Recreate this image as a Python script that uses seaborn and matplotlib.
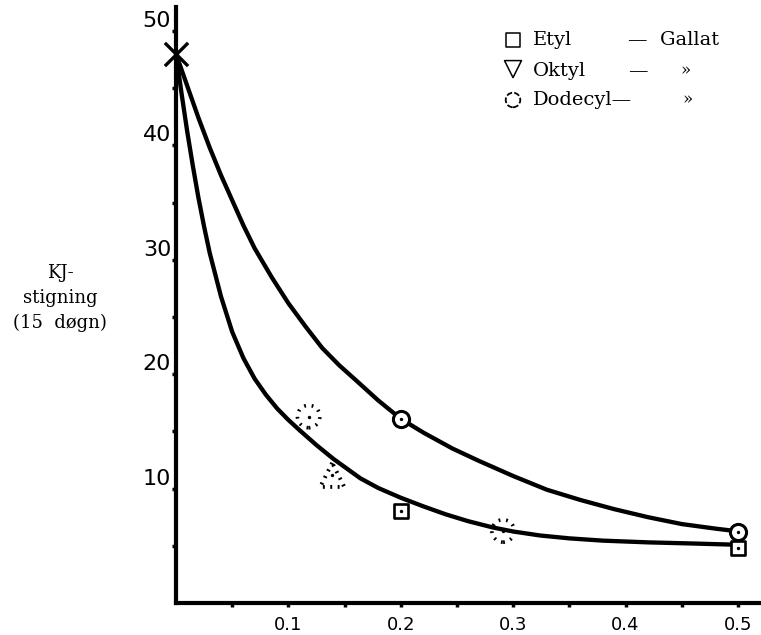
import matplotlib
matplotlib.use('Agg')
import matplotlib.pyplot as plt
import seaborn as sns
from matplotlib.transforms import ScaledTranslation

# curves (x = concentration, y = KJ-stigning)
upper_x = [0.0, 0.01, 0.02, 0.03, 0.04, 0.05, 0.06, 0.07, 0.085, 0.10, 0.115, 0.13, 0.145, 0.162,
           0.18, 0.20, 0.22, 0.246, 0.27, 0.30, 0.33, 0.36, 0.39, 0.42, 0.45, 0.48, 0.497]
upper_y = [48.0, 45.2, 42.4, 39.8, 37.4, 35.2, 33.0, 31.0, 28.5, 26.2, 24.2, 22.3, 20.8, 19.3,
           17.7, 16.1, 14.9, 13.5, 12.4, 11.1, 9.9, 9.0, 8.2, 7.5, 6.9, 6.5, 6.3]
lower_x = [0.0, 0.005, 0.01, 0.015, 0.02, 0.025, 0.03, 0.04, 0.05, 0.06, 0.07, 0.08, 0.09, 0.10,
           0.11, 0.125, 0.14, 0.164, 0.18, 0.20, 0.22, 0.24, 0.26, 0.282, 0.30, 0.324, 0.35, 0.38,
           0.42, 0.46, 0.496]
lower_y = [48.0, 44.5, 41.2, 38.2, 35.4, 32.9, 30.6, 26.8, 23.7, 21.4, 19.6, 18.2, 17.0, 16.0,
           15.1, 13.8, 12.6, 10.9, 10.05, 9.2, 8.45, 7.75, 7.15, 6.6, 6.25, 5.9, 5.65, 5.45,
           5.3, 5.2, 5.1]

# measured points
start_x, start_y = [0.0], [48.0]
etyl_x, etyl_y = [0.2, 0.5], [8.0, 4.8]
dodecyl_x, dodecyl_y = [0.2, 0.5], [16.1, 6.2]
dodecyl_dot_x, dodecyl_dot_y = [0.118, 0.291], [16.3, 6.3]
oktyl_x, oktyl_y = [0.139], [11.2]

x_ticks = [0.05, 0.1, 0.15, 0.2, 0.25, 0.3, 0.35, 0.4, 0.45, 0.5]
x_labels = ['', '0.1', '', '0.2', '', '0.3', '', '0.4', '', '0.5']
y_ticks = [5, 10, 15, 20, 25, 30, 35, 40, 45, 50]
y_labels = ['', '10', '', '20', '', '30', '', '40', '', '50']

sns.set_style('white')
plt.rcParams['text.color'] = 'black'
W, H = 761, 635
fig = plt.figure(figsize=(W / 100, H / 100), dpi=100)
ax = fig.add_axes([176 / W, 32 / H, 585 / W, 596 / H])

# curves
line_kw = dict(sort=False, estimator=None, color='black', lw=3.1,
               solid_joinstyle='round', solid_capstyle='round', ax=ax)
sns.lineplot(x=upper_x, y=upper_y, **line_kw)
sns.lineplot(x=lower_x, y=lower_y, **line_kw)

# markers
sns.scatterplot(x=start_x, y=start_y, marker='x', s=280, color='black', linewidth=2.4,
                zorder=4, clip_on=False, ax=ax)
sns.scatterplot(x=dodecyl_x, y=dodecyl_y, marker='o', s=135, color='white', edgecolor='black',
                linewidth=2.2, zorder=4, clip_on=False, ax=ax)
sns.scatterplot(x=etyl_x, y=etyl_y, marker='s', s=115, color='white', edgecolor='black',
                linewidth=1.9, zorder=4, clip_on=False, ax=ax)
sns.scatterplot(x=dodecyl_dot_x, y=dodecyl_dot_y, marker='o', s=260, color='none', edgecolor='black',
                linewidth=2.6, linestyle=(0, (0.5, 1.6)), zorder=4, ax=ax)
sns.scatterplot(x=oktyl_x, y=oktyl_y, marker='^', s=300, color='none', edgecolor='black',
                linewidth=2.8, linestyle=(0, (0.5, 1.4)), zorder=4, ax=ax)
sns.scatterplot(x=etyl_x + dodecyl_x + dodecyl_dot_x + oktyl_x,
                y=etyl_y + dodecyl_y + dodecyl_dot_y + oktyl_y,
                marker='o', s=6, color='black', linewidth=0, zorder=5, clip_on=False, ax=ax)

ax.set_xlim(0, 585 / 1124)
ax.set_ylim(0, 596 / 11.44)
sns.despine(ax=ax)
for side in ['left', 'bottom']:
    ax.spines[side].set_linewidth(3)
    ax.spines[side].set_color('black')

ax.set_xticks(x_ticks)
ax.set_xticklabels(x_labels, fontsize=13, family='DejaVu Sans', color='black')
ax.set_yticks(y_ticks)
ax.set_yticklabels(y_labels, fontsize=16, family='DejaVu Sans', color='black')
ax.tick_params(axis='both', bottom=True, left=True, direction='out', length=3, width=2.5, color='black')
ax.tick_params(axis='x', pad=6)
ax.tick_params(axis='y', pad=0.5)
shift = ScaledTranslation(0, 12 / 100, fig.dpi_scale_trans)
for lbl in ax.get_yticklabels():
    lbl.set_transform(lbl.get_transform() + shift)
ax.set_xlabel('')
ax.set_ylabel('')

# y-axis caption
fig.text(60 / W, 1 - 298 / H, 'KJ-\nstigning\n(15  døgn)', ha='center', va='center',
         family='DejaVu Serif', fontsize=13, linespacing=1.5, color='black')

# legend drawn by hand like the original
rows = [40, 71, 100]
serif = dict(family='DejaVu Serif', fontsize=14, va='center', color='black')
ax.scatter([513 / W], [1 - rows[0] / H], transform=fig.transFigure, marker='s', s=95,
           facecolor='none', edgecolor='black', linewidth=1.1, clip_on=False)
ax.scatter([513 / W], [1 - rows[1] / H + 0.003], transform=fig.transFigure, marker='v', s=150,
           facecolor='none', edgecolor='black', linewidth=1.1, clip_on=False)
ax.scatter([513 / W], [1 - rows[2] / H], transform=fig.transFigure, marker='o', s=110,
           facecolor='none', edgecolor='black', linewidth=1.3, linestyle=(0, (3.2, 1.2)), clip_on=False)
fig.text(533 / W, 1 - rows[0] / H, 'Etyl', **serif)
fig.text(628 / W, 1 - rows[0] / H, '—  Gallat', **serif)
fig.text(533 / W, 1 - rows[1] / H, 'Oktyl', **serif)
fig.text(628 / W, 1 - rows[1] / H, '—', **serif)
fig.text(686 / W, 1 - rows[1] / H, '»', ha='center', va='center', family='DejaVu Serif',
         fontsize=12, color='black')
fig.text(533 / W, 1 - rows[2] / H, 'Dodecyl—', **serif)
fig.text(688 / W, 1 - rows[2] / H, '»', ha='center', va='center', family='DejaVu Serif',
         fontsize=12, color='black')

fig.savefig('out.png', dpi=100)
